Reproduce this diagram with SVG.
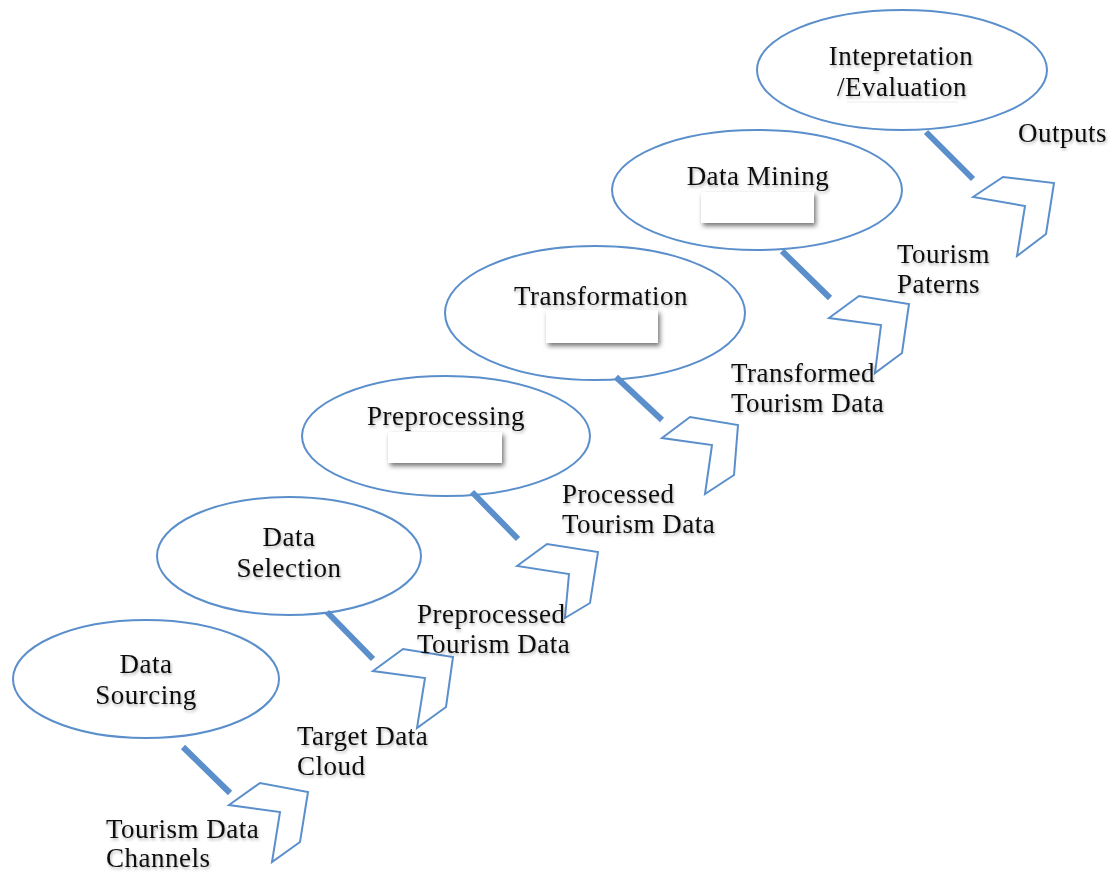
<svg xmlns="http://www.w3.org/2000/svg" width="1119" height="872" viewBox="0 0 1119 872">
  <defs>
    <filter id="txtShadow" x="-10%" y="-30%" width="120%" height="160%">
      <feDropShadow dx="1" dy="2" stdDeviation="1.5" flood-color="#000" flood-opacity="0.3"/>
    </filter>
    <filter id="boxShadow" x="-10%" y="-30%" width="130%" height="180%">
      <feDropShadow dx="2" dy="3" stdDeviation="2.5" flood-color="#000" flood-opacity="0.55"/>
    </filter>
  </defs>
  <style>
    .stage { fill: #fff; stroke: #5b8fcb; stroke-width: 2; }
    .link { stroke: #5b8fcb; stroke-width: 6; stroke-linecap: butt; }
    .chev { fill: #fff; stroke: #5b8fcb; stroke-width: 2; stroke-linejoin: miter; }
    .lbl { font-family: "Liberation Serif", "DejaVu Serif", serif; font-size: 27px; letter-spacing: 0.5px; fill: #111; filter: url(#txtShadow); }
    .mid { text-anchor: middle; }
    .blank { fill: #fff; filter: url(#boxShadow); }
  </style>
  <rect width="1119" height="872" fill="#fff"/>

  <!-- stage ellipses -->
  <g id="data-sourcing">
    <ellipse class="stage" cx="146" cy="679" rx="133" ry="59"/>
    <text class="lbl mid" x="146" y="673">Data</text>
    <text class="lbl mid" x="146" y="704">Sourcing</text>
  </g>
  <g id="data-selection">
    <ellipse class="stage" cx="289" cy="556" rx="132" ry="59"/>
    <text class="lbl mid" x="289" y="546">Data</text>
    <text class="lbl mid" x="289" y="577">Selection</text>
  </g>
  <g id="preprocessing">
    <ellipse class="stage" cx="446" cy="436" rx="144" ry="60"/>
    <text class="lbl mid" x="446" y="425">Preprocessing</text>
    <rect class="blank" x="388" y="432" width="114" height="31"/>
  </g>
  <g id="transformation">
    <ellipse class="stage" cx="595" cy="313" rx="150" ry="67"/>
    <text class="lbl mid" x="601" y="305">Transformation</text>
    <rect class="blank" x="546" y="310" width="112" height="33"/>
  </g>
  <g id="data-mining">
    <ellipse class="stage" cx="757" cy="190" rx="145" ry="60"/>
    <text class="lbl mid" x="758" y="185">Data Mining</text>
    <rect class="blank" x="701" y="192" width="113" height="31"/>
  </g>
  <g id="interpretation">
    <ellipse class="stage" cx="902" cy="70" rx="145" ry="60"/>
    <line x1="847" y1="102" x2="958" y2="102" stroke="#ececec" stroke-width="1"/>
    <text class="lbl mid" x="901" y="65">Intepretation</text>
    <text class="lbl mid" x="902" y="96">/Evaluation</text>
  </g>

  <!-- connectors: stems and chevron arrows -->
  <g id="connectors">
    <line class="link" x1="183" y1="747" x2="230" y2="793"/>
    <polygon class="chev" points="229,805 260,783 308,792 300,842 272,862 280,812"/>

    <line class="link" x1="327" y1="612" x2="373" y2="659"/>
    <polygon class="chev" points="373,671 403,649 453,657 446,707 417,728 425,678"/>

    <line class="link" x1="472" y1="492" x2="518" y2="539"/>
    <polygon class="chev" points="517,566 547,544 598,552 590,603 565,618 569,574"/>

    <line class="link" x1="616" y1="377" x2="662" y2="420"/>
    <polygon class="chev" points="662,438 690,417 738,425 734,475 705,494 712,445"/>

    <line class="link" x1="782" y1="251" x2="830" y2="298"/>
    <polygon class="chev" points="829,318 859,296 909,304 902,353 875,373 881,325"/>

    <line class="link" x1="926" y1="132" x2="973" y2="179"/>
    <polygon class="chev" points="973,197 1003,177 1054,183 1046,234 1017,256 1025,206"/>
  </g>

  <!-- data products between stages -->
  <g id="product-labels">
    <text class="lbl" x="106" y="838">Tourism Data</text>
    <text class="lbl" x="106" y="867">Channels</text>
    <text class="lbl" x="297" y="745">Target Data</text>
    <text class="lbl" x="297" y="775">Cloud</text>
    <text class="lbl" x="417" y="623">Preprocessed</text>
    <text class="lbl" x="417" y="653">Tourism Data</text>
    <text class="lbl" x="562" y="503">Processed</text>
    <text class="lbl" x="562" y="533">Tourism Data</text>
    <text class="lbl" x="731" y="382">Transformed</text>
    <text class="lbl" x="731" y="412">Tourism Data</text>
    <text class="lbl" x="897" y="263">Tourism</text>
    <text class="lbl" x="897" y="293">Paterns</text>
    <text class="lbl" x="1018" y="142">Outputs</text>
  </g>
</svg>
